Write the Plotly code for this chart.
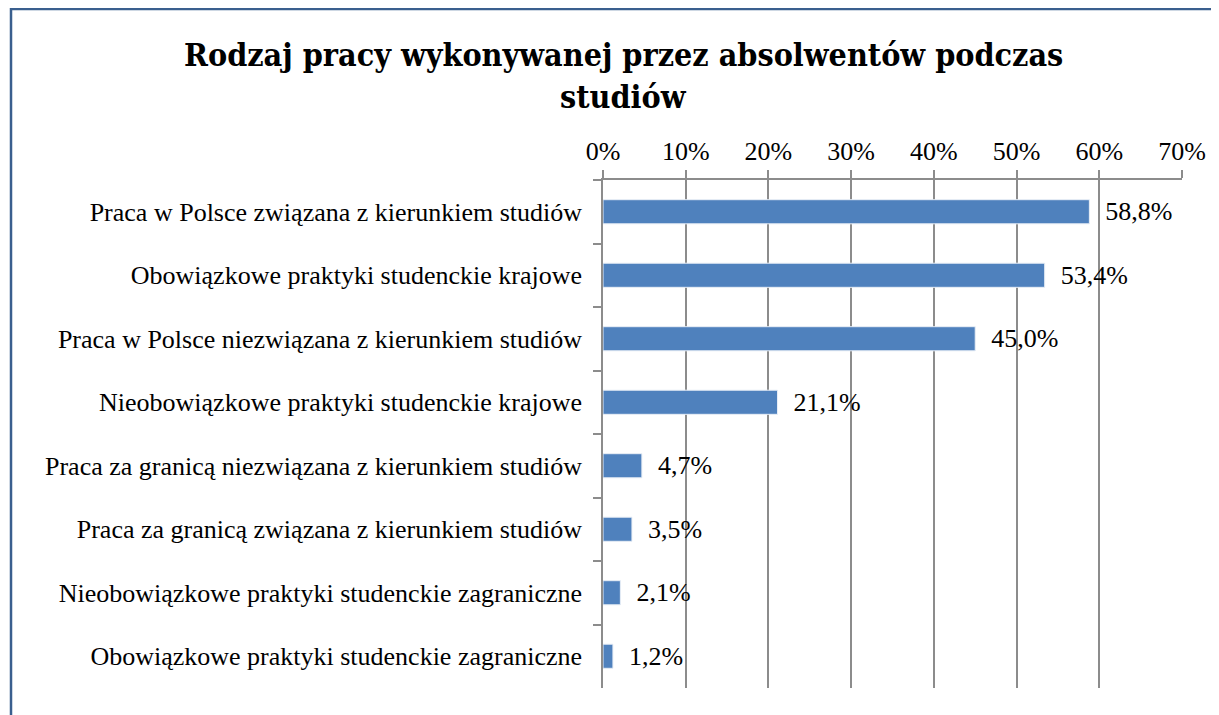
import plotly.graph_objects as go

categories = [
    "Praca w Polsce związana z kierunkiem studiów",
    "Obowiązkowe praktyki studenckie krajowe",
    "Praca w Polsce niezwiązana z kierunkiem studiów",
    "Nieobowiązkowe praktyki studenckie krajowe",
    "Praca za granicą niezwiązana z kierunkiem studiów",
    "Praca za granicą związana z kierunkiem studiów",
    "Nieobowiązkowe praktyki studenckie zagraniczne",
    "Obowiązkowe praktyki studenckie zagraniczne",
]
values = [58.8, 53.4, 45.0, 21.1, 4.7, 3.5, 2.1, 1.2]
tick_values = [0, 10, 20, 30, 40, 50, 60, 70]
tick_text = [f"{v}%" for v in tick_values]
title_lines = ["Rodzaj pracy wykonywanej przez absolwentów podczas", "studiów"]

labels = ["  " + f"{v:.1f}".replace(".", ",") + "%" for v in values]

FONT = "Liberation Serif, serif"
TFONT = "DejaVu Serif Condensed, DejaVu Serif, serif"

# page body has an 8px margin: work in figure coordinates = screen - 8
OFF = 8
L, R, T, B = 603 - OFF, 1182 - OFF, 180 - OFF, 688 - OFF
W, H = 1219 - OFF, 715 - OFF

fig = go.Figure()
fig.add_trace(go.Bar(
    y=categories, x=values, orientation="h",
    marker=dict(color="#4F81BD", line=dict(color="#E8EEF6", width=1)),
    width=0.38,
    text=labels, textposition="outside", cliponaxis=False,
    constraintext="none",
    textfont=dict(family=FONT, size=26, color="black"),
    hoverinfo="skip",
))

fig.add_shape(type="rect", xref="paper", yref="paper",
              x0=(11 - OFF - L) / (R - L), x1=1.3,
              y0=-0.3, y1=(B - 1) / (B - T),
              line=dict(color="#3A5F8E", width=2.5), fillcolor="rgba(0,0,0,0)",
              layer="above")

for line, ycen in zip(title_lines, [55, 97]):
    fig.add_annotation(text=line, xref="paper", yref="paper",
                       x=(623 - OFF - L) / (R - L), xanchor="center",
                       y=(B - (ycen - OFF)) / (B - T), yanchor="middle",
                       showarrow=False,
                       font=dict(family=TFONT, size=32, color="black", weight=700))

fig.update_layout(
    width=W, height=H,
    margin=dict(l=L, r=W - R, t=T, b=H - B, pad=0),
    paper_bgcolor="white", plot_bgcolor="white",
    showlegend=False,
    font=dict(family=FONT, color="black"),
    xaxis=dict(side="top", range=[0, 70], tickvals=tick_values, ticktext=tick_text,
               showgrid=True, gridcolor="#8C8C8C", gridwidth=1.5,
               showline=True, linecolor="#8C8C8C", linewidth=1.5,
               ticks="outside", ticklen=8, tickcolor="#8C8C8C", tickwidth=1.5,
               tickfont=dict(family=FONT, size=26, color="black"),
               zeroline=False, fixedrange=True),
    yaxis=dict(autorange="reversed", tickson="boundaries",
               showline=True, linecolor="#8C8C8C", linewidth=1.5,
               ticks="outside", ticklen=8, tickcolor="#8C8C8C", tickwidth=1.5,
               tickfont=dict(family=FONT, size=26, color="black"),
               ticklabelstandoff=14, fixedrange=True),
)

fig.write_html("out.html")
